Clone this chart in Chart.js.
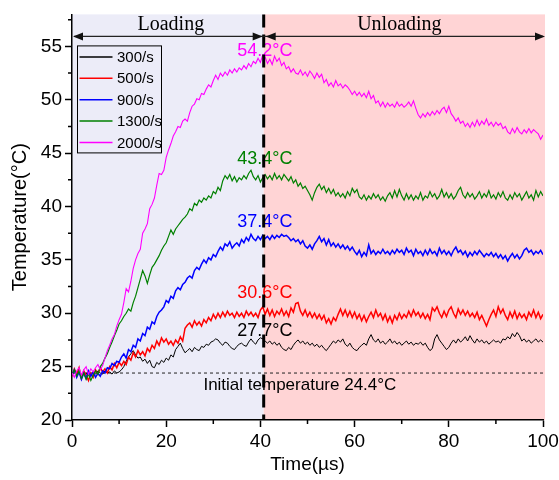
<!DOCTYPE html>
<html>
<head>
<meta charset="utf-8">
<script src="https://cdn.jsdelivr.net/npm/chart.js@4.4.0/dist/chart.umd.min.js"></script>
<style>
  html, body { margin: 0; padding: 0; background: #fff; }
</style>
</head>
<body>
<canvas id="tempChart" width="559" height="480"></canvas>
<script>
// samples every 0.5 µs from 0 to 100 µs
const timeStep = 0.5;
const rateLabels = ["300/s", "500/s", "900/s", "1300/s", "2000/s"];
const lineColors = ["#000000", "#ff0000", "#0000ff", "#008000", "#ff00ff"];
const lineWidths = [1, 1.5, 1.5, 1.2, 1.1];

const temp300 = [
  24.3,24.6,24.2,24.5,24.1,24.4,24.3,24.6,24.2,24.5,24.3,24.6,24.4,24.3,24.6,24.4,24.5,24.3,24.6,24.4,
  24.5,24.7,25.0,25.5,25.9,26.2,26.5,26.1,25.8,25.9,25.5,25.7,25.3,25.6,25.0,24.9,25.4,25.2,25.6,25.4,
  25.8,25.6,26.1,25.9,26.6,26.9,27.2,26.7,26.3,26.5,26.7,26.4,26.8,26.6,26.5,26.9,26.8,27.1,27.0,27.3,
  27.4,27.6,27.5,27.2,27.0,27.3,27.2,26.9,26.7,26.6,26.9,27.1,27.2,27.0,26.9,27.3,27.6,27.3,27.1,27.5,
  27.7,27.6,27.4,27.2,27.4,27.1,27.3,27.0,27.2,26.8,26.6,26.5,26.8,26.6,27.0,27.3,27.5,27.2,27.4,27.1,
  27.3,27.0,27.2,26.9,27.1,26.8,27.0,26.7,26.5,26.8,27.1,27.4,27.2,27.5,27.3,27.6,27.1,26.9,27.2,26.8,
  26.6,26.5,26.8,27.0,27.2,27.0,27.6,28.0,27.5,27.3,27.6,27.2,27.4,27.1,27.3,27.6,27.2,27.4,27.1,27.3,
  27.0,27.2,27.4,27.1,27.3,27.0,27.2,27.1,27.3,27.0,27.2,26.8,26.5,26.7,27.6,28.0,27.5,27.2,26.9,26.6,
  26.8,27.2,27.5,27.2,27.6,27.3,27.5,27.8,27.4,27.9,27.5,27.2,27.6,27.3,27.5,27.2,27.4,27.1,27.3,27.5,
  27.3,27.4,27.2,27.6,27.5,27.8,27.6,28.1,27.8,28.2,27.9,27.4,27.6,27.3,27.5,27.2,27.4,27.6,27.3,27.5,
  27.3
];
const temp500 = [
  24.1,24.8,24.3,24.9,23.9,24.6,24.2,23.7,24.4,24.0,24.7,24.3,24.9,24.5,24.8,24.4,25.0,24.7,25.3,24.9,
  25.4,25.1,25.5,25.2,25.9,25.6,26.3,25.9,26.5,26.1,26.4,26.0,26.7,26.4,27.0,26.7,27.4,27.0,27.7,27.3,
  27.6,27.1,27.4,27.0,27.5,27.2,27.8,27.4,28.6,28.9,29.1,28.7,29.3,28.9,29.2,28.8,29.4,29.1,29.6,29.3,
  29.9,29.5,30.0,29.6,30.1,29.7,30.2,29.8,30.0,29.6,30.1,29.7,30.0,29.6,30.2,29.8,30.1,29.7,30.0,29.6,
  30.3,30.6,29.9,30.4,29.8,30.3,29.7,30.2,29.9,30.4,29.8,30.2,29.7,30.5,30.1,30.9,31.0,30.2,29.8,30.3,
  29.7,30.1,29.6,30.0,29.5,29.9,29.4,29.8,29.1,29.5,29.0,29.6,29.3,29.9,30.4,29.8,30.3,29.7,30.2,29.6,
  30.1,29.5,29.9,29.3,29.8,29.2,29.7,30.1,29.6,30.3,29.7,30.0,29.4,29.9,29.2,29.7,29.1,29.8,29.4,30.0,
  29.5,29.9,29.6,30.2,29.7,30.3,29.8,30.1,29.6,30.0,29.5,29.9,29.4,30.5,30.2,30.6,30.0,29.6,30.2,29.7,
  30.3,30.6,30.0,29.6,30.4,29.9,30.3,29.8,30.2,29.7,30.0,29.6,30.1,29.4,29.8,29.3,28.8,29.4,29.9,30.3,
  29.7,30.6,30.0,30.4,29.8,29.4,30.1,29.6,30.2,29.5,30.0,29.6,29.9,29.4,30.1,29.7,30.3,29.6,30.1,29.5,
  29.9
];
const temp900 = [
  24.2,24.7,24.0,24.5,23.8,24.4,23.9,24.6,24.1,24.5,24.0,24.4,24.1,24.6,24.4,24.9,24.8,25.3,25.1,25.5,
  25.4,25.9,26.2,25.8,26.6,26.4,27.0,26.8,27.6,27.4,28.1,27.9,28.7,28.5,29.2,29.0,29.7,30.1,30.3,30.6,
  31.2,31.0,31.6,31.4,32.1,32.4,32.2,32.7,32.9,33.3,33.5,33.3,34.0,34.3,34.1,34.6,35.0,34.7,35.2,35.0,
  35.5,35.3,35.8,36.2,35.9,36.5,36.3,36.7,36.1,36.4,36.6,36.3,36.9,36.6,37.1,36.8,37.4,37.0,36.8,37.2,
  36.9,37.3,37.0,37.2,36.9,37.3,37.0,37.3,37.1,37.4,37.2,37.3,37.1,36.8,37.0,36.7,36.9,36.5,36.8,36.3,
  36.1,36.4,36.0,36.5,36.8,37.2,36.7,37.0,36.4,36.9,36.3,36.6,36.2,36.5,36.1,36.4,36.0,36.3,35.9,36.2,
  35.8,35.5,35.9,35.3,35.7,35.4,36.4,35.6,35.9,35.5,35.8,35.6,36.0,35.6,35.8,35.5,35.9,35.6,36.0,35.7,
  35.9,35.5,36.1,35.7,35.9,35.4,36.0,35.6,35.8,35.4,35.9,35.5,36.0,35.6,35.8,35.4,36.1,35.6,35.9,35.5,
  35.8,35.4,35.9,36.2,35.7,35.9,35.5,35.8,35.3,35.7,35.4,35.8,35.5,35.9,35.6,35.3,35.6,35.4,35.7,35.3,
  35.6,35.2,35.5,35.1,35.4,34.9,35.3,35.6,35.2,35.5,35.1,35.4,35.9,36.1,35.7,35.9,35.5,35.8,35.6,35.9,
  35.5
];
const temp1300 = [
  24.2,24.7,24.1,24.6,23.9,24.4,23.8,24.3,23.7,24.2,24.6,24.3,25.0,25.3,25.8,26.2,26.8,27.3,27.9,28.4,
  29.0,29.3,29.7,30.0,30.4,30.2,31.0,31.6,32.4,33.2,34.0,33.5,32.8,33.6,34.3,34.6,35.0,35.4,35.9,36.3,
  36.6,37.2,37.8,37.4,37.9,38.2,38.5,38.8,39.0,39.3,39.8,39.6,40.3,40.1,40.6,40.4,40.8,40.6,41.0,40.8,
  41.4,41.2,41.8,41.5,42.4,42.9,42.6,43.0,42.4,42.8,42.3,42.7,42.5,42.9,42.6,43.1,43.4,42.8,42.5,42.9,
  42.3,42.7,43.0,42.6,42.9,42.5,43.1,42.6,42.9,42.5,43.0,42.7,42.4,42.8,42.2,42.5,41.9,42.2,41.7,41.9,
  41.5,41.1,40.6,41.3,41.8,42.1,41.6,41.9,41.3,41.7,41.2,41.6,41.0,41.3,40.9,41.2,40.8,41.4,41.0,41.7,
  41.3,41.6,40.9,40.7,41.1,40.6,41.0,40.7,41.2,40.8,41.1,40.6,40.9,40.5,41.0,41.3,40.8,41.5,40.9,41.6,
  41.0,40.6,41.2,40.7,41.1,40.6,41.0,40.7,41.3,40.6,41.0,40.8,41.4,40.9,41.2,40.7,41.0,41.6,40.9,41.3,
  40.8,41.2,40.7,41.0,41.5,41.8,41.1,40.8,41.3,40.9,41.2,40.7,41.0,41.4,40.8,41.2,40.9,41.5,40.8,41.1,
  40.7,41.3,40.9,41.4,40.8,40.6,41.1,40.7,41.3,40.9,41.2,40.6,41.0,41.4,40.8,41.1,40.6,41.5,40.9,41.4,
  41.0
];
const temp2000 = [
  24.4,24.0,24.6,24.9,24.2,24.7,25.0,24.3,24.8,24.5,24.9,25.2,24.7,25.1,25.8,26.5,27.0,27.6,28.0,28.8,
  29.4,29.9,31.0,32.3,32.0,33.0,34.2,35.0,35.6,36.0,37.5,37.9,38.4,39.8,40.2,40.8,42.0,43.1,43.0,43.4,
  44.6,45.3,45.9,46.6,47.0,47.5,47.4,48.0,48.2,48.0,48.8,49.4,49.6,50.1,50.0,50.6,50.5,51.0,51.4,51.2,
  51.8,52.3,51.9,52.5,52.2,52.6,52.3,52.8,52.5,52.9,52.6,53.0,52.8,53.2,52.9,53.4,53.1,53.6,53.4,53.9,
  53.5,54.2,54.0,53.4,53.8,53.3,54.1,53.6,53.9,53.2,53.5,52.9,53.1,52.6,52.9,52.5,52.4,52.8,52.3,52.6,
  52.2,52.7,52.4,52.0,52.5,52.1,52.4,51.6,51.9,51.3,51.6,51.2,51.8,51.3,51.5,51.1,51.4,51.2,50.9,50.5,
  50.8,50.4,50.7,50.3,50.6,50.2,50.8,50.1,50.4,49.7,49.9,49.4,49.8,49.3,49.7,49.4,49.6,49.3,49.8,49.4,
  49.6,49.3,49.5,49.8,49.4,49.9,49.2,48.6,48.3,48.7,48.4,48.8,48.5,48.9,48.6,49.0,48.7,49.1,49.3,48.8,
  49.4,48.7,48.4,48.0,48.3,47.8,48.0,47.5,47.8,47.4,47.9,47.5,48.1,47.6,48.0,47.7,48.2,47.6,47.9,47.5,
  47.9,47.6,47.8,47.3,47.5,47.0,46.8,47.3,46.9,47.4,47.0,46.8,47.2,46.9,47.3,46.9,47.2,47.0,46.8,46.3,
  46.7
];
const seriesTemps = [temp300, temp500, temp900, temp1300, temp2000];

// temperatures reached at the end of loading, one per strain rate
const peakTemps = [27.7, 30.6, 37.4, 43.4, 54.2];
const peakOffsets = [-2, -9, -7, -6, 1];
const initialTemp = 24.4;
const switchTime = 40.7;

const sans = "'Liberation Sans', Arial, sans-serif";
const serif = "'Liberation Serif', 'Times New Roman', serif";

function arrowHead(ctx, x, y, dir) {
  ctx.beginPath();
  ctx.moveTo(x, y);
  ctx.lineTo(x - dir * 10, y - 4);
  ctx.lineTo(x - dir * 10, y + 4);
  ctx.closePath();
  ctx.fill();
}

const decor = {
  id: 'decor',
  beforeDraw(chart) {
    const { ctx, chartArea: a, scales: { x } } = chart;
    const xs = x.getPixelForValue(switchTime);
    ctx.save();
    ctx.fillStyle = '#ececf8';
    ctx.fillRect(a.left, a.top, xs - a.left, a.bottom - a.top);
    ctx.fillStyle = '#ffd4d5';
    ctx.fillRect(xs, a.top, a.right + 2 - xs, a.bottom - a.top);
    ctx.restore();
  },
  beforeDatasetsDraw(chart) {
    const { ctx, chartArea: a, scales: { y } } = chart;
    const yi = y.getPixelForValue(initialTemp);
    ctx.save();
    ctx.strokeStyle = '#222';
    ctx.lineWidth = 1;
    ctx.setLineDash([3, 3]);
    ctx.beginPath();
    ctx.moveTo(a.left, yi);
    ctx.lineTo(a.right, yi);
    ctx.stroke();
    ctx.restore();
  },
  afterDatasetsDraw(chart) {
    const { ctx, chartArea: a, scales: { x, y } } = chart;
    const xs = x.getPixelForValue(switchTime);
    ctx.save();

    // end-of-loading temperatures
    ctx.font = '18px ' + sans;
    ctx.textAlign = 'left';
    ctx.textBaseline = 'alphabetic';
    peakTemps.forEach((v, i) => {
      ctx.fillStyle = lineColors[i];
      ctx.fillText(v.toFixed(1) + '°C', x.getPixelForValue(35.1), y.getPixelForValue(v) + peakOffsets[i]);
    });

    ctx.fillStyle = '#000';
    ctx.font = '17px ' + sans;
    ctx.fillText('Initial temperature ' + initialTemp + '°C', x.getPixelForValue(27.9), y.getPixelForValue(initialTemp) + 17);

    // loading / unloading boundary
    ctx.strokeStyle = '#000';
    ctx.lineWidth = 3;
    ctx.setLineDash([13, 7]);
    ctx.beginPath();
    ctx.moveTo(xs, a.top);
    ctx.lineTo(xs, a.bottom);
    ctx.stroke();
    ctx.setLineDash([]);

    // phase arrows
    const ay = a.top + 22;
    const right = a.right + 2;
    ctx.strokeStyle = '#222';
    ctx.fillStyle = '#111';
    ctx.lineWidth = 1.2;
    ctx.beginPath();
    ctx.moveTo(a.left + 2, ay);
    ctx.lineTo(right - 2, ay);
    ctx.stroke();
    arrowHead(ctx, a.left + 1, ay, -1);
    arrowHead(ctx, xs - 1, ay, 1);
    arrowHead(ctx, xs + 2, ay, -1);
    arrowHead(ctx, right, ay, 1);

    ctx.font = '20px ' + serif;
    ctx.textAlign = 'center';
    ctx.fillStyle = '#000';
    ctx.fillText('Loading', (a.left + xs) / 2 + 3, a.top + 16);
    ctx.fillText('Unloading', (xs + right) / 2 - 5, a.top + 16);

    // legend box, in the order the rates are listed
    const lx = a.left + 5.5, ly = a.top + 31.5;
    ctx.lineWidth = 1;
    ctx.strokeStyle = '#000';
    ctx.strokeRect(lx, ly, 84, 107);
    ctx.font = '15px ' + sans;
    ctx.textAlign = 'left';
    ctx.textBaseline = 'middle';
    rateLabels.forEach((label, i) => {
      const ry = ly + 11 + i * 21.4;
      ctx.strokeStyle = lineColors[i];
      ctx.lineWidth = 1.5;
      ctx.beginPath();
      ctx.moveTo(lx + 2, ry);
      ctx.lineTo(lx + 35, ry);
      ctx.stroke();
      ctx.fillStyle = '#000';
      ctx.fillText(label, lx + 39.5, ry + 1);
    });
    ctx.restore();
  },
  afterDraw(chart) {
    // minor ticks halfway between the labelled ones
    const { ctx, chartArea: a, scales: { x, y } } = chart;
    ctx.save();
    ctx.strokeStyle = '#000';
    ctx.lineWidth = 1.5;
    ctx.beginPath();
    for (let t = 10; t < 100; t += 20) {
      const px = x.getPixelForValue(t);
      ctx.moveTo(px, a.bottom);
      ctx.lineTo(px, a.bottom + 4);
    }
    for (let v = 22.5; v < 58; v += 5) {
      const py = y.getPixelForValue(v);
      ctx.moveTo(a.left, py);
      ctx.lineTo(a.left - 4, py);
    }
    ctx.stroke();
    ctx.restore();
  }
};

// 2000/s goes in first so it is painted on top
const datasets = rateLabels.map((label, i) => ({
  label: label,
  data: seriesTemps[i].map((v, k) => ({ x: k * timeStep, y: v })),
  borderColor: lineColors[i],
  borderWidth: lineWidths[i],
  pointRadius: 0,
  tension: 0,
  fill: false
})).reverse();

new Chart(document.getElementById('tempChart'), {
  type: 'line',
  data: { datasets: datasets },
  options: {
    responsive: false,
    animation: false,
    layout: { padding: { top: 10, right: 16, bottom: 0, left: 0 } },
    plugins: { legend: { display: false }, tooltip: { enabled: false } },
    scales: {
      x: {
        type: 'linear',
        min: 0,
        max: 100,
        ticks: { stepSize: 20, color: '#000', padding: 3, maxRotation: 0, font: { family: sans, size: 19 } },
        grid: { drawOnChartArea: false, tickLength: 7, tickColor: '#000', tickWidth: 1.5 },
        border: { color: '#000', width: 1.5 },
        title: { display: true, text: 'Time(µs)', color: '#000', padding: 4, font: { family: sans, size: 19 } },
        afterFit: s => { s.height = 60; s.paddingRight = 0; }
      },
      y: {
        min: 20,
        max: 58,
        ticks: { stepSize: 5, includeBounds: false, color: '#000', padding: 3, font: { family: sans, size: 19 } },
        grid: { drawOnChartArea: false, tickLength: 7, tickColor: '#000', tickWidth: 1.5 },
        border: { color: '#000', width: 1.5 },
        title: { display: true, text: 'Temperature(°C)', color: '#000', padding: 8, font: { family: sans, size: 20 } },
        afterFit: s => { s.width = 72; }
      }
    }
  },
  plugins: [decor]
});
</script>
</body>
</html>
